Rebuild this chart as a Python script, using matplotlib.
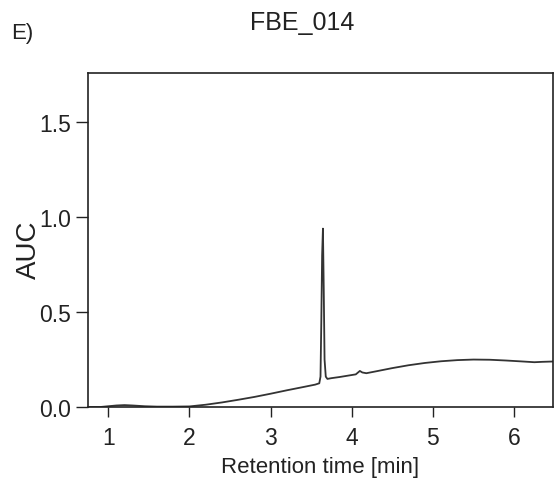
import numpy as np
import matplotlib.pyplot as plt

plt.rcParams['font.family'] = ['Liberation Sans', 'DejaVu Sans']

# chromatogram trace
rt = [0.75, 0.9, 1.0, 1.1, 1.2, 1.3, 1.45, 1.6, 1.8, 2.0, 2.2, 2.4, 2.6, 2.8, 3.0, 3.2,
      3.4, 3.55, 3.60, 3.615, 3.625, 3.635, 3.645, 3.655, 3.665, 3.68, 3.70, 3.75,
      3.85, 3.95, 4.05, 4.10, 4.13, 4.18, 4.3, 4.5, 4.7, 4.9, 5.1, 5.3, 5.5, 5.7,
      5.9, 6.1, 6.25, 6.35, 6.5]
auc = [0.0, 0.0, 0.004, 0.008, 0.01, 0.008, 0.004, 0.002, 0.002, 0.003, 0.012, 0.024,
       0.038, 0.053, 0.07, 0.088, 0.105, 0.118, 0.125, 0.16, 0.45, 0.80, 0.94, 0.62,
       0.25, 0.16, 0.148, 0.152, 0.158, 0.165, 0.172, 0.19, 0.182, 0.178, 0.188, 0.205,
       0.22, 0.232, 0.241, 0.247, 0.25, 0.249, 0.245, 0.24, 0.236, 0.238, 0.24]

xticks = [1, 2, 3, 4, 5, 6]
yticks = [0.0, 0.5, 1.0, 1.5]

fig = plt.figure(figsize=(5.54, 4.89), dpi=100)
ax = fig.add_axes([88/554, 1-408/489, (553-88)/554, (408-74)/489])

ax.plot(rt, auc, color='#333333', lw=1.3)

ax.set_xlim(0.75, 6.48)
ax.set_ylim(0, 1.76)
ax.set_xticks(xticks)
ax.set_yticks(yticks)
ax.set_yticklabels(['%.1f' % v for v in yticks])
ax.tick_params(labelsize=16.5, width=1.0, colors='#222222')
ax.tick_params(axis='x', length=7, pad=7)
ax.tick_params(axis='y', length=9, pad=3)
for s in ax.spines.values():
    s.set_linewidth(1.2)
    s.set_color('#222222')

ax.set_xlabel('Retention time [min]', fontsize=16, color='#222222')
ax.xaxis.set_label_coords(320/554, 1-457/489, transform=fig.transFigure)
ax.set_ylabel('AUC', fontsize=20, color='#222222')
ax.yaxis.set_label_coords(42/554, 1-250/489, transform=fig.transFigure)

fig.text(302/554, 1-23/489, 'FBE_014', fontsize=18, ha='center', va='center', color='#222222')
fig.text(11/554, 1-33/489, 'E)', fontsize=16, ha='left', va='center', color='#222222')

fig.savefig('out.png', dpi=100)
